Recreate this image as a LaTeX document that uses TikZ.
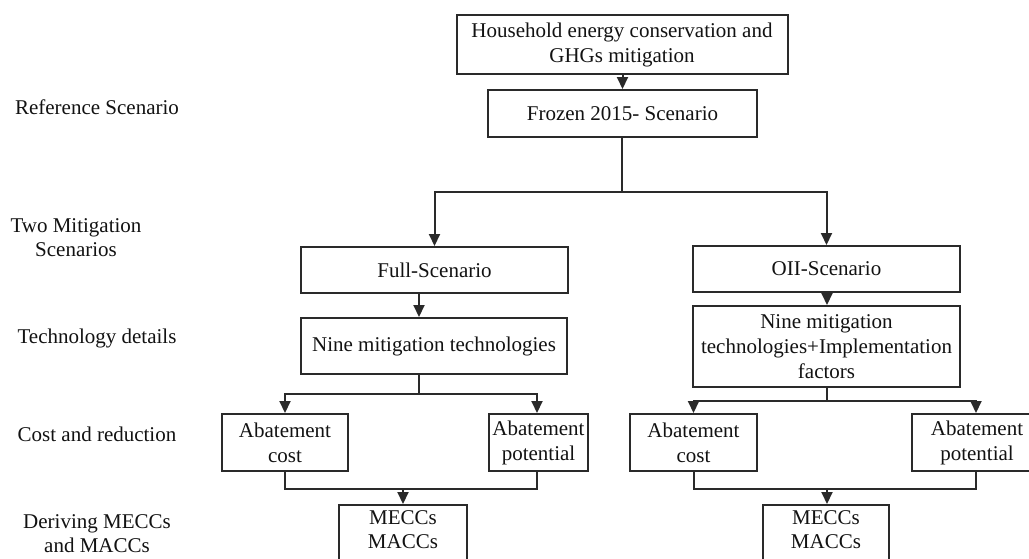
\documentclass[tikz,border=0pt]{standalone}
\usepackage{fontspec}
\setmainfont{Liberation Serif}
\usetikzlibrary{arrows.meta}
\definecolor{linec}{HTML}{2A2A2A}
\definecolor{textc}{HTML}{121212}
\begin{document}
\begin{tikzpicture}[x=1pt,y=-1pt,
  box/.style={draw=linec, line width=2pt, align=center, inner sep=0pt, text=textc,
    font=\fontsize{21}{25}\selectfont},
  lbl/.style={align=center, inner sep=0pt, text=textc, font=\fontsize{21}{23.5}\selectfont},
  conn/.style={draw=linec, line width=2pt},
  arr/.style={conn, -{Triangle[length=12pt,width=11pt]}}]
\clip (0,0) rectangle (1029,558);
\fill[white] (0,0) rectangle (1029,558);

% left labels
\node[lbl] (l1) at (97,107) {Reference Scenario};
\node[lbl] (l2) at (76,237.5) {Two Mitigation\\Scenarios};
\node[lbl] (l3) at (97,338) {Technology details};
\node[lbl] (l4) at (97,434) {Cost and reduction};
\node[lbl] (l5) at (97,533.5) {Deriving MECCs\\and MACCs};

% boxes
\node[box, minimum width=331, minimum height=59] (top) at (622,44.5) {Household energy conservation and\\GHGs mitigation};
\node[box, minimum width=269, minimum height=47] (frozen) at (622.5,113.5) {Frozen 2015- Scenario};
\node[box, minimum width=267, minimum height=46] (full) at (434.5,270) {Full-Scenario};
\node[box, minimum width=267, minimum height=46] (oii) at (826.5,269) {OII-Scenario};
\node[box, minimum width=266, minimum height=56] (nine1) at (434,346) {Nine mitigation technologies};
\node[box, minimum width=267, minimum height=81] (nine2) at (826.5,346.5) {Nine mitigation\\technologies+Implementation\\factors};
\node[box, minimum width=126, minimum height=57] (cost1) at (285,442.5) {Abatement\\cost};
\node[box, minimum width=99, minimum height=57] (pot1) at (538.5,442.5) {Abatement\\potential};
\node[box, minimum width=127, minimum height=57] (cost2) at (693.5,442.5) {Abatement\\cost};
\node[box, minimum width=130, minimum height=57] (pot2) at (977,442.5) {Abatement\\potential};
\node[box, minimum width=128, minimum height=66] (mec1) at (403,538) {};
\node[lbl, font=\fontsize{21}{24}\selectfont] (mt1) at (403,530) {MECCs\\MACCs};
\node[box, minimum width=126, minimum height=66] (mec2) at (826,538) {};
\node[lbl, font=\fontsize{21}{24}\selectfont] (mt2) at (826,530) {MECCs\\MACCs};

% junction coordinates
\coordinate (j1) at (622,192);
\coordinate (j2) at (419,394);
\coordinate (j3) at (827,400.5);
\coordinate (j4) at (403,489);
\coordinate (j5) at (827,489);

% connectors
\draw[arr] (top.south -| frozen.north) -- (frozen.north);
\draw[conn] (frozen.south -| j1) -- (j1);
\draw[arr] (j1) -| (full.north);
\draw[arr] (j1) -| (oii.north);
\draw[arr] (full.south -| j2) -- (nine1.north -| j2);
\draw[arr] (oii.south -| j3) -- (nine2.north -| j3);

\draw[conn] (nine1.south -| j2) -- (j2);
\draw[arr] (j2) -| (cost1.north);
\draw[arr] (j2) -| ([xshift=-1.5]pot1.north);
\draw[conn] (nine2.south -| j3) -- (j3);
\draw[arr] (j3) -| (cost2.north);
\draw[arr] (j3) -| ([xshift=-1]pot2.north);

\draw[conn] (cost1.south) |- (j4) -| ([xshift=-1.5]pot1.south);
\draw[arr] (j4) -- (mec1.north);
\draw[conn] (cost2.south) |- (j5) -| ([xshift=-1]pot2.south);
\draw[arr] (j5) -- (mec2.north -| j5);
\end{tikzpicture}
\end{document}
